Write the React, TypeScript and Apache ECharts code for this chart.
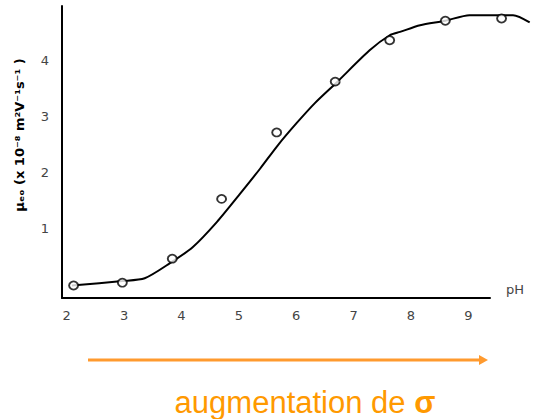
import React, { useEffect, useRef } from "react";
import * as echarts from "echarts";

// Measured points (pH, electro-osmotic mobility x 1e-8 m2/V/s)
const measuredPh = [2.12, 2.97, 3.84, 4.7, 5.66, 6.68, 7.63, 8.6, 9.58];
const measuredMobility = [-0.02, 0.03, 0.46, 1.53, 2.72, 3.63, 4.37, 4.72, 4.76];

// Hand-drawn trend curve
const curvePh = [2.09, 2.97, 3.36, 3.8, 4.2, 4.62, 5.02, 5.37, 5.68, 6.01, 6.33, 6.71, 7.28, 7.63, 7.81, 8.16, 8.6, 9.02, 9.78, 10.07];
const curveMobility = [-0.02, 0.06, 0.11, 0.38, 0.67, 1.12, 1.62, 2.07, 2.49, 2.89, 3.25, 3.62, 4.19, 4.46, 4.52, 4.64, 4.72, 4.82, 4.82, 4.69];

const xTicks = [2, 3, 4, 5, 6, 7, 8, 9];
const yTicks = [1, 2, 3, 4];

const xAxisName = "pH";
const yAxisName = "μₑₒ (x 10⁻⁸ m²V⁻¹s⁻¹ )";
const arrowText = "augmentation de ";
const sigmaText = "σ";

export default function App() {
  const ref = useRef<HTMLDivElement>(null);

  useEffect(() => {
    if (!ref.current) return;
    const chart = echarts.init(ref.current, undefined, { renderer: "svg" });
    const orange = "#ff9a2e";
    const pxPerPh = 57.37;
    const xMin = 1.918;
    const xMaxAxis = 9.378;
    // plotting grid extends to the page edge so the curve is not cut at the axis end
    const xMaxPlot = xMin + (533 - 62) / pxPerPh;
    const yMin = -0.244;
    const yMax = 4.984;
    const labelStyle = {
      color: "#444",
      fontFamily: "DejaVu Sans",
      fontSize: 13,
    };
    chart.setOption({
      animation: false,
      backgroundColor: "#ffffff",
      grid: [
        { left: 62, right: 43, top: 6, bottom: 121, containLabel: false },
        { left: 62, right: 0, top: 6, bottom: 121, containLabel: false },
      ],
      xAxis: [
        {
          type: "value",
          gridIndex: 0,
          min: xMin,
          max: xMaxAxis,
          name: xAxisName,
          nameLocation: "end",
          nameGap: 16,
          nameTextStyle: {
            ...labelStyle,
            verticalAlign: "bottom",
            padding: [0, 0, 2, 0],
          },
          axisLine: { show: true, onZero: false, lineStyle: { color: "#000", width: 2 } },
          axisTick: { show: false },
          splitLine: { show: false },
          axisLabel: { ...labelStyle, customValues: xTicks, margin: 11 },
        },
        {
          type: "value",
          gridIndex: 1,
          min: xMin,
          max: xMaxPlot,
          show: false,
          splitLine: { show: false },
        },
      ],
      yAxis: [
        {
          type: "value",
          gridIndex: 0,
          min: yMin,
          max: yMax,
          name: yAxisName,
          nameLocation: "middle",
          nameRotate: 90,
          nameGap: 36,
          nameTextStyle: {
            color: "#000",
            fontFamily: "DejaVu Sans",
            fontWeight: "bold",
            fontSize: 13,
            padding: [0, 0, 0, 34],
          },
          axisLine: { show: true, onZero: false, lineStyle: { color: "#000", width: 2 } },
          axisTick: { show: false },
          splitLine: { show: false },
          axisLabel: { ...labelStyle, customValues: yTicks, margin: 13 },
        },
        {
          type: "value",
          gridIndex: 1,
          min: yMin,
          max: yMax,
          show: false,
          splitLine: { show: false },
        },
      ],
      series: [
        {
          type: "line",
          xAxisIndex: 1,
          yAxisIndex: 1,
          data: curvePh.map((x, i) => [x, curveMobility[i]]),
          smooth: 0.25,
          showSymbol: false,
          lineStyle: { color: "#000", width: 2 },
          z: 2,
        },
        {
          type: "scatter",
          xAxisIndex: 1,
          yAxisIndex: 1,
          data: measuredPh.map((x, i) => [x, measuredMobility[i]]),
          symbol: "circle",
          symbolSize: [9, 8],
          itemStyle: { color: "#fff", borderColor: "#000", borderWidth: 1.8 },
          z: 3,
        },
      ],
      graphic: [
        {
          type: "line",
          shape: { x1: 88, y1: 360, x2: 481, y2: 360 },
          style: { stroke: orange, lineWidth: 3 },
        },
        {
          type: "polygon",
          shape: { points: [[479, 355], [488, 360], [479, 365]] },
          style: { fill: orange },
        },
        {
          type: "text",
          x: 305,
          y: 402,
          style: {
            text: "{a|" + arrowText + "}{b|" + sigmaText + "}",
            align: "center",
            verticalAlign: "middle",
            rich: {
              a: {
                fill: "#ff9900",
                fontFamily: "Liberation Sans",
                fontSize: 31,
              },
              b: {
                fill: "#ff9900",
                fontFamily: "Liberation Sans",
                fontWeight: "bold",
                fontSize: 31,
              },
            },
          },
        },
      ],
    });
    return () => chart.dispose();
  }, []);

  return (
    <div
      ref={ref}
      style={{ position: "fixed", left: 0, top: 0, width: 533, height: 419 }}
    />
  );
}
